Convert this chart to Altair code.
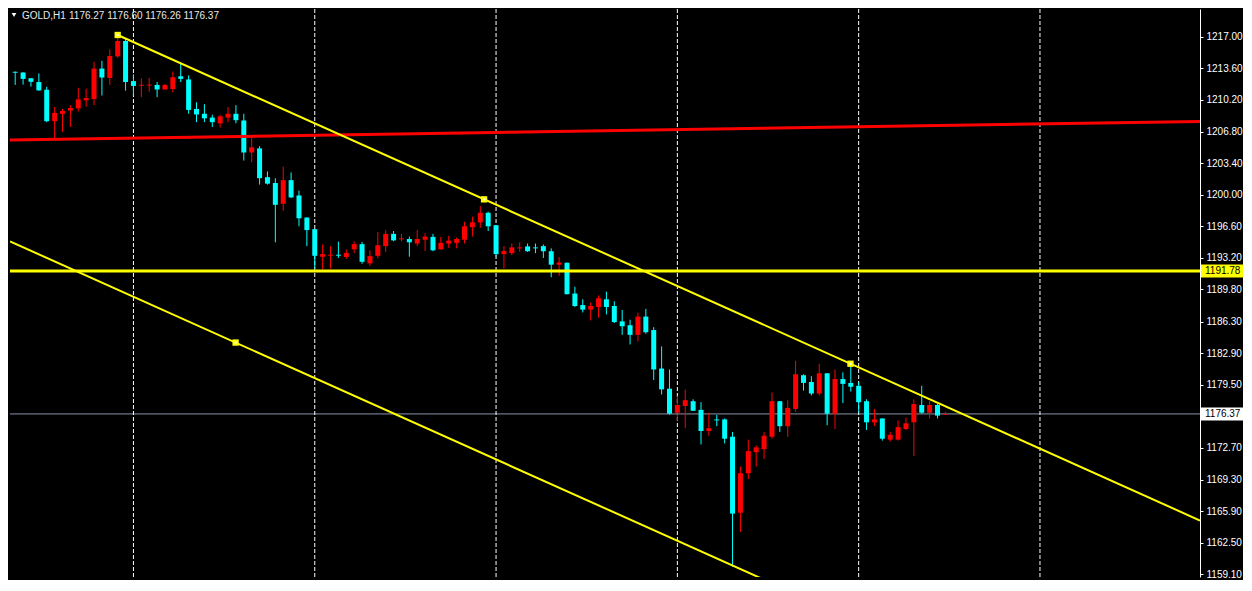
import altair as alt
import pandas as pd

# ---------------- data ----------------
opens = [1213.22, 1213.16, 1212.54, 1212.13, 1211.30, 1207.91, 1208.71, 1209.05, 1209.30, 1210.16,
         1210.30, 1213.58, 1212.57, 1214.89, 1216.55, 1212.23, 1211.77, 1211.79, 1211.82, 1211.33,
         1211.37, 1212.75, 1212.41, 1209.23, 1208.71, 1208.30, 1207.68, 1208.30, 1208.71, 1207.99,
         1204.54, 1204.98, 1201.88, 1201.25, 1199.01, 1201.56, 1199.91, 1197.53, 1196.28, 1193.31,
         1193.45, 1193.49, 1193.28, 1194.11, 1194.66, 1192.59, 1193.41, 1194.45, 1195.77, 1195.22,
         1195.22, 1194.73, 1195.14, 1195.45, 1194.11, 1194.73, 1194.80, 1195.14, 1196.49, 1197.01,
         1198.04, 1196.70, 1193.59, 1193.69, 1194.24, 1194.42, 1194.28, 1194.45, 1193.90, 1192.45,
         1192.66, 1189.34, 1188.10, 1187.61, 1187.89, 1188.72, 1188.00, 1186.34, 1185.93, 1184.89,
         1186.86, 1185.41, 1181.26, 1179.09, 1176.50, 1177.23, 1177.74, 1176.81, 1174.53, 1175.75,
         1175.78, 1173.91, 1165.73, 1169.98, 1172.25, 1172.57, 1173.91, 1177.74, 1175.05, 1176.91,
         1180.54, 1179.81, 1178.57, 1180.75, 1176.40, 1180.13, 1179.71, 1179.40, 1177.74, 1175.47,
         1175.88, 1173.60, 1173.60, 1174.74, 1175.47, 1177.33, 1176.50, 1177.33, 1176.27]
highs = [1213.27, 1213.18, 1212.56, 1213.06, 1211.61, 1209.44, 1209.23, 1209.64, 1211.51, 1211.40,
         1214.30, 1214.41, 1215.65, 1217.20, 1216.79, 1212.96, 1212.54, 1212.57, 1212.13, 1211.92,
         1213.27, 1214.13, 1212.85, 1209.95, 1209.75, 1208.61, 1208.61, 1209.44, 1209.64, 1208.71,
         1206.19, 1205.22, 1202.50, 1201.77, 1203.01, 1202.39, 1200.43, 1197.55, 1196.30, 1194.63,
         1194.45, 1194.94, 1194.11, 1194.97, 1194.90, 1194.00, 1195.97, 1196.18, 1196.08, 1195.77,
         1195.48, 1196.18, 1195.84, 1195.77, 1195.45, 1195.56, 1195.38, 1197.08, 1197.63, 1198.77,
         1198.15, 1196.72, 1194.45, 1194.73, 1194.86, 1194.73, 1194.73, 1194.63, 1194.21, 1193.28,
         1192.68, 1190.07, 1188.72, 1188.38, 1189.14, 1189.55, 1188.51, 1187.58, 1186.52, 1187.27,
         1187.69, 1185.72, 1183.65, 1181.16, 1178.29, 1178.99, 1177.95, 1177.64, 1176.50, 1176.26,
         1175.88, 1174.43, 1170.70, 1173.60, 1172.98, 1174.43, 1178.68, 1177.76, 1177.85, 1182.09,
         1180.64, 1180.44, 1181.78, 1180.77, 1181.16, 1180.85, 1181.78, 1179.81, 1177.95, 1176.91,
         1175.90, 1174.43, 1175.67, 1175.98, 1177.95, 1179.40, 1177.74, 1177.43, 1176.60]
lows = [1211.82, 1211.85, 1211.64, 1211.20, 1207.81, 1206.02, 1206.77, 1207.29, 1208.95, 1209.47,
        1209.64, 1210.68, 1211.82, 1214.75, 1211.20, 1210.68, 1210.50, 1211.09, 1210.50, 1211.30,
        1211.02, 1212.13, 1208.71, 1207.81, 1207.81, 1207.29, 1207.23, 1207.81, 1207.68, 1203.67,
        1203.50, 1201.08, 1201.08, 1194.86, 1198.25, 1199.63, 1196.59, 1194.45, 1192.04, 1191.96,
        1192.04, 1193.18, 1193.07, 1193.69, 1192.55, 1192.32, 1193.14, 1193.83, 1194.97, 1194.97,
        1193.31, 1194.45, 1193.93, 1193.90, 1194.04, 1194.24, 1194.21, 1194.73, 1195.48, 1196.42,
        1196.08, 1193.31, 1192.04, 1193.49, 1193.83, 1193.83, 1193.69, 1193.18, 1191.10, 1191.24,
        1189.25, 1187.89, 1187.30, 1186.44, 1186.75, 1187.10, 1186.16, 1184.89, 1183.85, 1184.17,
        1185.02, 1180.02, 1178.47, 1176.29, 1175.57, 1174.84, 1176.69, 1173.08, 1174.02, 1175.05,
        1173.19, 1159.93, 1163.66, 1169.35, 1170.70, 1171.53, 1173.70, 1174.43, 1173.91, 1176.60,
        1178.88, 1178.36, 1178.36, 1175.15, 1174.74, 1177.54, 1178.78, 1176.50, 1174.64, 1175.05,
        1173.50, 1173.39, 1173.50, 1174.64, 1171.84, 1176.40, 1175.88, 1175.88, 1176.26]
closes = [1213.15, 1212.47, 1212.16, 1211.23, 1207.91, 1208.81, 1209.02, 1209.33, 1210.26, 1210.40,
          1213.58, 1212.62, 1214.93, 1216.55, 1212.13, 1211.71, 1211.80, 1211.82, 1211.33, 1211.82,
          1212.65, 1212.47, 1209.13, 1208.64, 1208.22, 1207.81, 1208.43, 1208.71, 1208.02, 1204.54,
          1205.09, 1201.77, 1201.18, 1198.90, 1201.56, 1199.70, 1197.45, 1196.18, 1193.41, 1193.59,
          1193.49, 1193.45, 1193.72, 1194.66, 1192.76, 1193.38, 1194.55, 1195.77, 1195.07, 1195.25,
          1194.86, 1195.22, 1195.48, 1194.00, 1194.80, 1195.04, 1195.22, 1196.59, 1197.01, 1198.04,
          1196.59, 1193.59, 1193.93, 1194.31, 1194.28, 1193.90, 1194.24, 1193.90, 1192.45, 1192.69,
          1189.27, 1188.00, 1187.61, 1188.00, 1188.83, 1187.89, 1186.27, 1185.82, 1184.89, 1186.86,
          1185.17, 1181.16, 1179.02, 1176.40, 1177.33, 1177.85, 1176.71, 1174.53, 1174.84, 1175.70,
          1173.70, 1165.63, 1169.98, 1172.36, 1172.77, 1174.02, 1177.74, 1175.05, 1177.02, 1180.64,
          1179.71, 1178.57, 1180.75, 1176.40, 1180.13, 1179.61, 1179.30, 1177.64, 1175.47, 1175.78,
          1173.70, 1174.12, 1174.95, 1175.36, 1177.43, 1176.50, 1177.33, 1176.19, 1176.37]

tick_values = [1217.00, 1213.60, 1210.20, 1206.80, 1203.40, 1200.00, 1196.60, 1193.20, 1189.80,
               1186.30, 1182.90, 1179.50, 1172.70, 1169.30, 1165.90, 1162.50, 1159.10]

separator_bars = [15, 38, 61, 84, 107, 130]          # day separators (bar index)
red_line_bar = [-0.66, 150.3]
red_line_price = [1205.88, 1207.88]
trend_bar = [13, 150.3]
trend_price = [1217.20, 1164.89]
channel_bar = [-0.66, 100.0]
channel_price = [1194.96, 1156.61]
handle_bar = [13, 59.48, 105.96, 27.96]
handle_price = [1217.20, 1199.49, 1181.78, 1184.06]
level_price = 1191.78
bid_price = 1176.37
header_symbol = "GOLD,H1"
header_ohlc = "1176.27 1176.60 1176.26 1176.37"

# ---------------- build tables ----------------
W, H = 1190, 568
XDOM = [-0.66, 150.3]
YDOM = [1158.8, 1220.0]
UP, DOWN = "#FF0000", "#00FFFF"

rows = []
for i, (o, h, l, c) in enumerate(zip(opens, highs, lows, closes)):
    lo, hi = min(o, c), max(o, c)
    if hi - lo < 0.1:
        mid = (hi + lo) / 2
        lo, hi = mid - 0.05, mid + 0.05
    rows.append(dict(i=i, open=o, high=h, low=l, close=c, blo=lo, bhi=hi,
                     col=UP if c >= o else DOWN))
candles = pd.DataFrame(rows)

price_axis = alt.Axis(orient="right", values=tick_values, format=".2f", title=None, grid=False,
                      domainColor="#FFFFFF", tickColor="#FFFFFF", labelColor="#FFFFFF",
                      tickSize=3, labelPadding=3, labelFont="Liberation Sans", labelFontSize=10,
                      labelOverlap=False, labelFlush=False)


def xs(field="i"):
    return alt.X(field, type="quantitative",
                 scale=alt.Scale(domain=XDOM, nice=False, zero=False, padding=0), axis=None)


def ys(field):
    return alt.Y(field, type="quantitative",
                 scale=alt.Scale(domain=YDOM, nice=False, zero=False, padding=0), axis=price_axis)


colr = alt.Color("col:N", scale=None)

bid_df = pd.DataFrame({"p": [bid_price]})
bid_line = alt.Chart(bid_df).mark_rule(color="#8A96A8", strokeWidth=1).encode(y=ys("p"))

sep_df = pd.DataFrame({"i": separator_bars})
seps = alt.Chart(sep_df).mark_rule(color="#FFFFFF", strokeWidth=1, strokeDash=[4, 2]).encode(x=xs("i"))

wicks = alt.Chart(candles).mark_rule(strokeWidth=1).encode(
    x=xs("i"), y=ys("low"), y2="high", color=colr)
bodies = alt.Chart(candles).mark_bar(size=5).encode(
    x=xs("i"), y=ys("blo"), y2="bhi", color=colr)

red_df = pd.DataFrame({"i": red_line_bar, "p": red_line_price})
red_line = alt.Chart(red_df).mark_line(color="#FF0000", strokeWidth=3, clip=True).encode(
    x=xs("i"), y=ys("p"))

lvl_df = pd.DataFrame({"p": [level_price]})
level = alt.Chart(lvl_df).mark_rule(color="#FFFF00", strokeWidth=3).encode(y=ys("p"))

tr_df = pd.DataFrame({"i": trend_bar, "p": trend_price})
trend = alt.Chart(tr_df).mark_line(color="#FFFF00", strokeWidth=2, clip=True).encode(
    x=xs("i"), y=ys("p"))
ch_df = pd.DataFrame({"i": channel_bar, "p": channel_price})
channel = alt.Chart(ch_df).mark_line(color="#FFFF00", strokeWidth=2, clip=True).encode(
    x=xs("i"), y=ys("p"))

hd_df = pd.DataFrame({"i": handle_bar, "p": handle_price})
handles = alt.Chart(hd_df).mark_square(size=40, filled=True, color="#FFFF00", opacity=1).encode(
    x=xs("i"), y=ys("p"))
handle_dots = alt.Chart(hd_df).mark_square(size=4, filled=True, color="#FFFFFF", opacity=1).encode(
    x=xs("i"), y=ys("p"))

box_df = pd.DataFrame({"p": [level_price, bid_price],
                       "lab": ["%.2f" % level_price, "%.2f" % bid_price],
                       "col": ["#FFFF00", "#FFFFFF"]})
box_df["top"] = box_df["p"] + 0.70
box_df["bot"] = box_df["p"] - 0.70
boxes = alt.Chart(box_df).mark_rect(clip=False).encode(
    x=alt.value(W + 1), x2=alt.value(W + 43), y=ys("top"), y2="bot", color=colr)
box_text = alt.Chart(box_df).mark_text(align="left", baseline="middle", font="Liberation Sans",
                                       fontSize=10, color="#000000", clip=False).encode(
    x=alt.value(W + 5), y=ys("p"), text="lab:N")

hdr_df = pd.DataFrame({"t": [header_symbol], "u": [header_ohlc]})
tri = alt.Chart(hdr_df).mark_point(shape="triangle-down", filled=True, size=22, color="#FFFFFF",
                                   opacity=1).encode(x=alt.value(4), y=alt.value(6))
hdr1 = alt.Chart(hdr_df).mark_text(align="left", baseline="middle", font="Liberation Sans", fontSize=10,
                                   color="#E8E8E8").encode(x=alt.value(12), y=alt.value(7), text="t:N")
hdr2 = alt.Chart(hdr_df).mark_text(align="left", baseline="middle", font="Liberation Sans", fontSize=10,
                                   color="#E8E8E8").encode(x=alt.value(59), y=alt.value(7), text="u:N")

chart = alt.layer(
    bid_line, seps, wicks, bodies, red_line, level, trend, channel, handles, handle_dots,
    boxes, box_text, tri, hdr1, hdr2
).properties(
    width=W, height=H, background="#000000", padding=0
).configure_view(stroke=None)

chart.save("out.html", embed_options={"renderer": "svg", "actions": False})
